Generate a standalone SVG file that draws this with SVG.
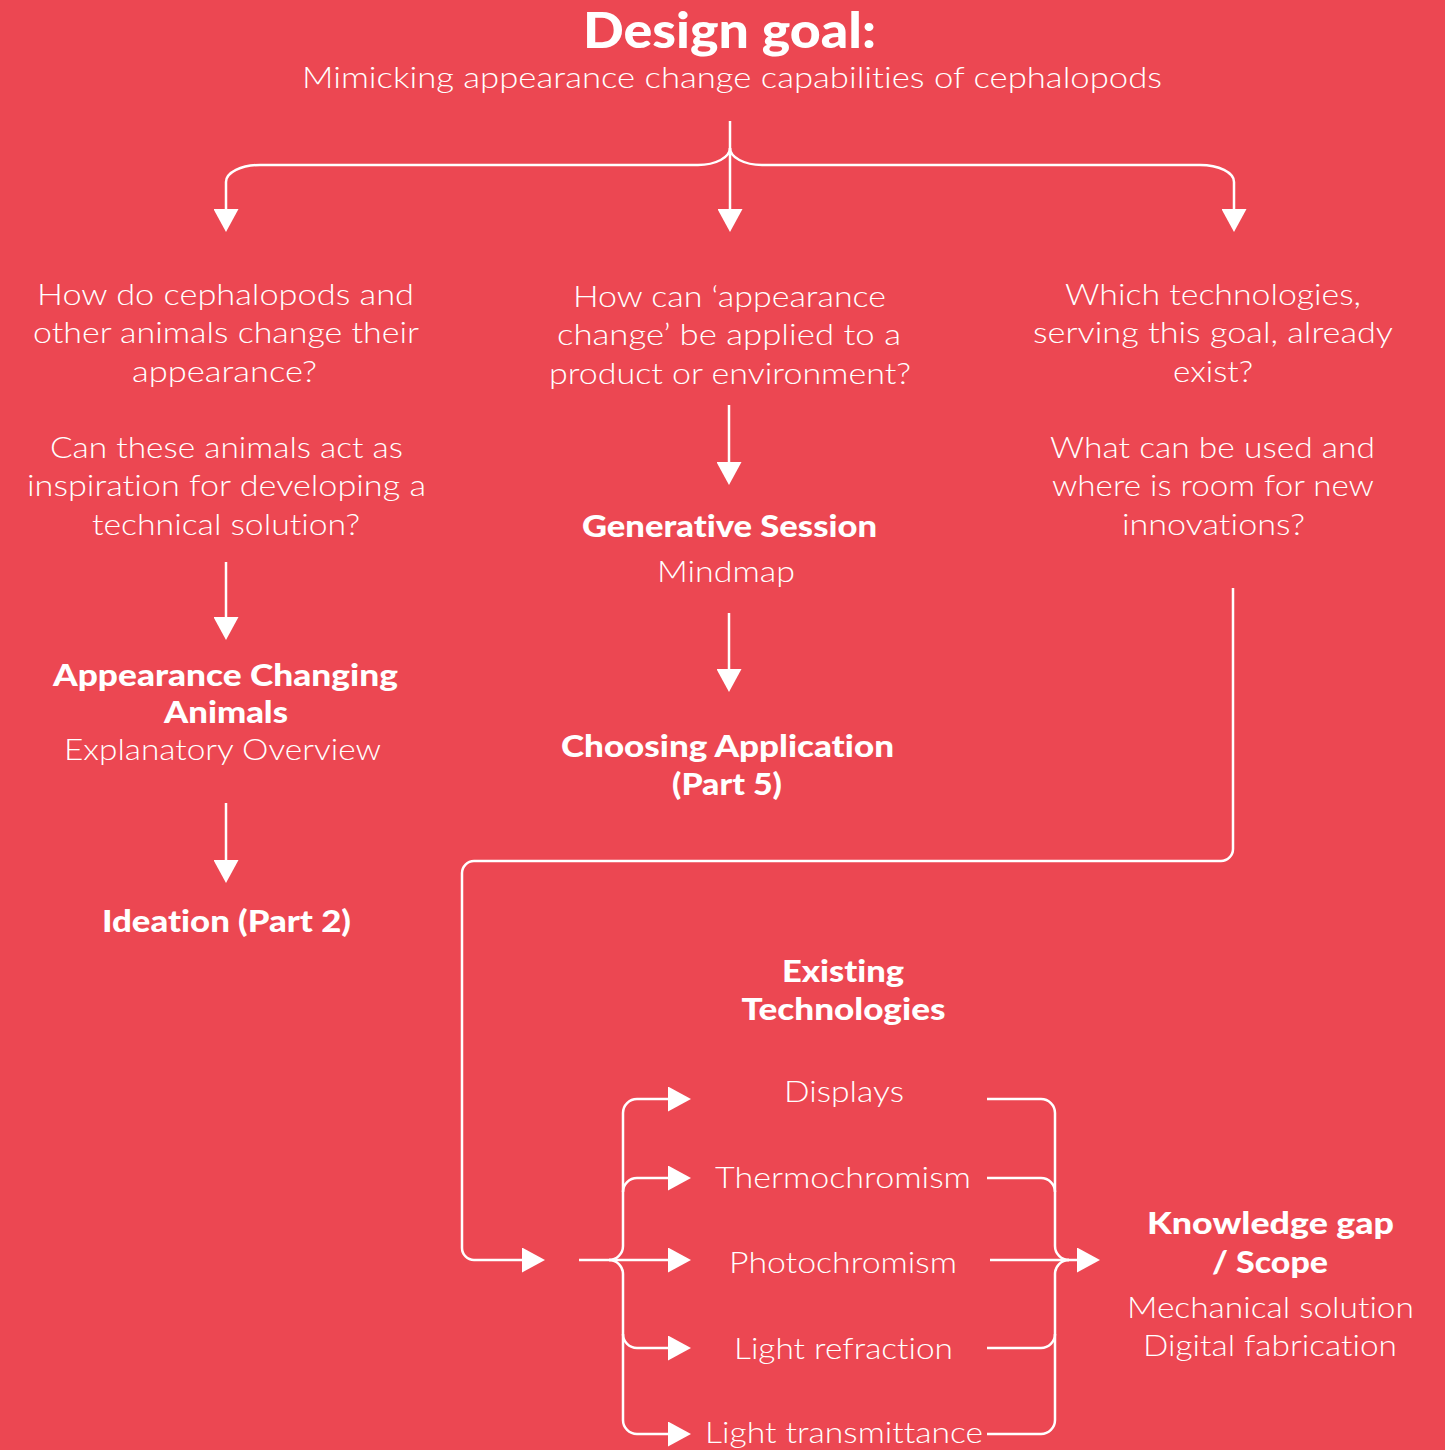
<svg xmlns="http://www.w3.org/2000/svg" width="1445" height="1450" viewBox="0 0 1445 1450">
<style>
text{font-family:Lato,"Open Sans","Liberation Sans",sans-serif;fill:#fff;text-anchor:middle;font-variant-ligatures:none;font-feature-settings:"liga" 0,"dlig" 0}
.l{font-weight:300;font-size:29px}
.b{font-weight:900;font-size:30px}
.t{font-weight:900;font-size:49px}
.c{fill:none;stroke:#fff;stroke-width:2.5}
.a{marker-end:url(#ah)}
</style>
<defs>
<marker id="ah" markerUnits="userSpaceOnUse" viewBox="0 0 23 25" refX="0" refY="12.5" markerWidth="23" markerHeight="25" orient="auto">
<path d="M0,0 L23,12.5 L0,25 Z" fill="#fff"/>
</marker>
</defs>
<rect width="1445" height="1450" fill="#EC4752"/>

<g id="connectors">
<path class="c a" d="M730,121 V209"/>
<path class="c a" d="M730,148 A32,17 0 0 1 698,165 H260 A34,17 0 0 0 226,182 V209"/>
<path class="c a" d="M730,148 A32,17 0 0 0 762,165 H1200 A34,17 0 0 1 1234,182 V209"/>
<path class="c a" d="M226,562 V617"/>
<path class="c a" d="M226,803 V860"/>
<path class="c a" d="M729,405 V462"/>
<path class="c a" d="M729,613 V669"/>
<path class="c a" d="M1233,588 V849 A12,12 0 0 1 1221,861 H474 A12,12 0 0 0 462,873 V1248 A12,12 0 0 0 474,1260 H522"/>
<path class="c a" d="M579,1260 H668"/>
<path class="c a" d="M609,1260 A14,14 0 0 0 623,1246 V1113 A14,14 0 0 1 637,1099 H668"/>
<path class="c a" d="M609,1260 A14,14 0 0 1 623,1274 V1420 A14,14 0 0 0 637,1434 H668"/>
<path class="c a" d="M623,1192 A14,14 0 0 1 637,1178 H668"/>
<path class="c a" d="M623,1334 A14,14 0 0 0 637,1348 H668"/>
<path class="c" d="M987,1099 H1041 A14,14 0 0 1 1055,1113 V1246 A14,14 0 0 0 1069,1260"/>
<path class="c" d="M987,1434 H1041 A14,14 0 0 0 1055,1420 V1274 A14,14 0 0 1 1069,1260"/>
<path class="c" d="M987,1178 H1041 A14,14 0 0 1 1055,1192"/>
<path class="c" d="M987,1348 H1041 A14,14 0 0 0 1055,1334"/>
<path class="c a" d="M990,1260 H1077"/>
</g>

<g id="goal">
<text class="t" x="729.5" y="48" textLength="293" lengthAdjust="spacingAndGlyphs">Design goal:</text>
<text class="l" x="732" y="88" textLength="860" lengthAdjust="spacingAndGlyphs">Mimicking appearance change capabilities of cephalopods</text>
</g>

<g id="q-left">
<text class="l" x="225.5" y="305" textLength="377" lengthAdjust="spacingAndGlyphs">How do cephalopods and</text>
<text class="l" x="226" y="343" textLength="386" lengthAdjust="spacingAndGlyphs">other animals change their</text>
<text class="l" x="224.5" y="382" textLength="185" lengthAdjust="spacingAndGlyphs">appearance?</text>
<text class="l" x="226.5" y="458" textLength="353" lengthAdjust="spacingAndGlyphs">Can these animals act as</text>
<text class="l" x="226.5" y="496" textLength="399" lengthAdjust="spacingAndGlyphs">inspiration for developing a</text>
<text class="l" x="226" y="535" textLength="268" lengthAdjust="spacingAndGlyphs">technical solution?</text>
</g>

<g id="q-mid">
<text class="l" x="729.5" y="307" textLength="313" lengthAdjust="spacingAndGlyphs">How can ‘appearance</text>
<text class="l" x="729" y="345" textLength="344" lengthAdjust="spacingAndGlyphs">change’ be applied to a</text>
<text class="l" x="730" y="384" textLength="362" lengthAdjust="spacingAndGlyphs">product or environment?</text>
</g>

<g id="q-right">
<text class="l" x="1213" y="305" textLength="296" lengthAdjust="spacingAndGlyphs">Which technologies,</text>
<text class="l" x="1213" y="343" textLength="360" lengthAdjust="spacingAndGlyphs">serving this goal, already</text>
<text class="l" x="1213" y="382" textLength="80" lengthAdjust="spacingAndGlyphs">exist?</text>
<text class="l" x="1212.5" y="458" textLength="325" lengthAdjust="spacingAndGlyphs">What can be used and</text>
<text class="l" x="1213" y="496" textLength="322" lengthAdjust="spacingAndGlyphs">where is room for new</text>
<text class="l" x="1213.5" y="535" textLength="183" lengthAdjust="spacingAndGlyphs">innovations?</text>
</g>

<g id="appearance-animals">
<text class="b" x="225.5" y="686" textLength="345" lengthAdjust="spacingAndGlyphs">Appearance Changing</text>
<text class="b" x="226" y="723" textLength="124" lengthAdjust="spacingAndGlyphs">Animals</text>
<text class="l" x="222.5" y="760" textLength="317" lengthAdjust="spacingAndGlyphs">Explanatory Overview</text>
</g>

<g id="ideation">
<text class="b" x="226.5" y="932" textLength="249" lengthAdjust="spacingAndGlyphs">Ideation (Part 2)</text>
</g>

<g id="generative">
<text class="b" x="729.5" y="537" textLength="295" lengthAdjust="spacingAndGlyphs">Generative Session</text>
<text class="l" x="726" y="582" textLength="138" lengthAdjust="spacingAndGlyphs">Mindmap</text>
</g>

<g id="choosing">
<text class="b" x="727.5" y="757" textLength="333" lengthAdjust="spacingAndGlyphs">Choosing Application</text>
<text class="b" x="727" y="795" textLength="110" lengthAdjust="spacingAndGlyphs">(Part 5)</text>
</g>

<g id="existing">
<text class="b" x="843" y="982" textLength="122" lengthAdjust="spacingAndGlyphs">Existing</text>
<text class="b" x="843.5" y="1020" textLength="204" lengthAdjust="spacingAndGlyphs">Technologies</text>
</g>

<g id="displays"><text class="l" x="844" y="1102" textLength="120" lengthAdjust="spacingAndGlyphs">Displays</text></g>
<g id="thermochromism"><text class="l" x="843" y="1188" textLength="256" lengthAdjust="spacingAndGlyphs">Thermochromism</text></g>
<g id="photochromism"><text class="l" x="843" y="1273" textLength="228" lengthAdjust="spacingAndGlyphs">Photochromism</text></g>
<g id="refraction"><text class="l" x="843.5" y="1359" textLength="219" lengthAdjust="spacingAndGlyphs">Light refraction</text></g>
<g id="transmittance"><text class="l" x="844" y="1443" textLength="278" lengthAdjust="spacingAndGlyphs">Light transmittance</text></g>

<g id="knowledge-gap">
<text class="b" x="1270.5" y="1234" textLength="247" lengthAdjust="spacingAndGlyphs">Knowledge gap</text>
<text class="b" x="1270" y="1273" textLength="116" lengthAdjust="spacingAndGlyphs">/ Scope</text>
<text class="l" x="1270.5" y="1318" textLength="287" lengthAdjust="spacingAndGlyphs">Mechanical solution</text>
<text class="l" x="1270" y="1356" textLength="254" lengthAdjust="spacingAndGlyphs">Digital fabrication</text>
</g>
</svg>
